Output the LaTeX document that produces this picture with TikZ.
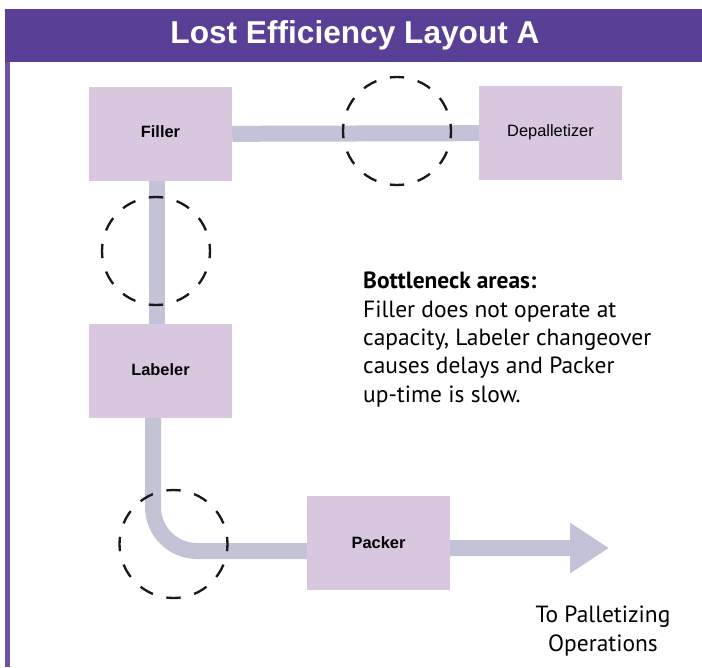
\documentclass[tikz,border=0pt]{standalone}
\usepackage{fontspec}
\setmainfont{Liberation Sans}
\newfontfamily\notefont{PT Sans}
\usetikzlibrary{arrows.meta}
\definecolor{hdrpurple}{HTML}{5A3F97}
\definecolor{edgepurple}{HTML}{6B52A6}
\definecolor{boxlilac}{HTML}{D8C7DF}
\definecolor{beltgrey}{HTML}{C3C2D6}
\begin{document}
\begin{tikzpicture}[x=0.3mm,y=-0.3mm,
	machine/.style={fill=boxlilac,minimum width=42.9mm,minimum height=28.2mm,inner sep=0pt,font=\fontsize{14}{16}\selectfont},
	belt/.style={draw=beltgrey,line width=4.8mm},
	hotspot/.style={circle,draw=black!90,line width=2pt,minimum size=32.4mm,inner sep=0pt,dash pattern=on 4.3mm off 4.18mm,dash phase=2.15mm},
	note/.style={font=\notefont\fontsize{20}{24.2}\selectfont,inner sep=0pt}]
	\useasboundingbox (0,0) rectangle (702,667);
	% header and side edge
	\fill[hdrpurple] (5,9) rectangle (702,62);
	\fill[edgepurple] (5,62) rectangle (10,667);
	\node[text=white,font=\bfseries\fontsize{27}{30}\selectfont] (title) at (355,35) {Lost Efficiency Layout A};
	% machines
	\node[machine] (filler) at (160.5,134) {\raisebox{4pt}{\textbf{Filler}}};
	\node[machine] (depal) at (550.5,133) {\raisebox{4pt}{Depalletizer}};
	\node[machine] (labeler) at (160.5,371) {\raisebox{2pt}{\textbf{Labeler}}};
	\node[machine] (packer) at (378.5,542.5) {\textbf{Packer}};
	\coordinate (out) at (609,548);
	% conveyors
	\draw[belt] (filler) -- (depal);
	\draw[belt] ([xshift=-1.05mm]filler.south) -- ([xshift=-1.05mm]labeler.north);
	\draw[belt,rounded corners=13.2mm] ([xshift=-2.25mm]labeler.south) |- ([yshift=-2.55mm]packer.west);
	\draw[belt,-{Triangle[length=11.7mm,width=14.4mm]}] ([yshift=-1.65mm]packer.east) -- (out);
	% bottlenecks
	\node[hotspot] (jamA) at (397,131) {};
	\node[hotspot] (jamB) at (156,251) {};
	\node[hotspot] (jamC) at (173.5,544) {};
	% texts
	\node[note,anchor=north west,align=left] (notes) at (363,272) {\textbf{Bottleneck areas:}\\Filler does not operate at\\capacity, Labeler changeover\\causes delays and Packer\\up-time is slow.};
	\node[note,align=center] (dest) at (603,631) {To Palletizing\\Operations};
\end{tikzpicture}
\end{document}
